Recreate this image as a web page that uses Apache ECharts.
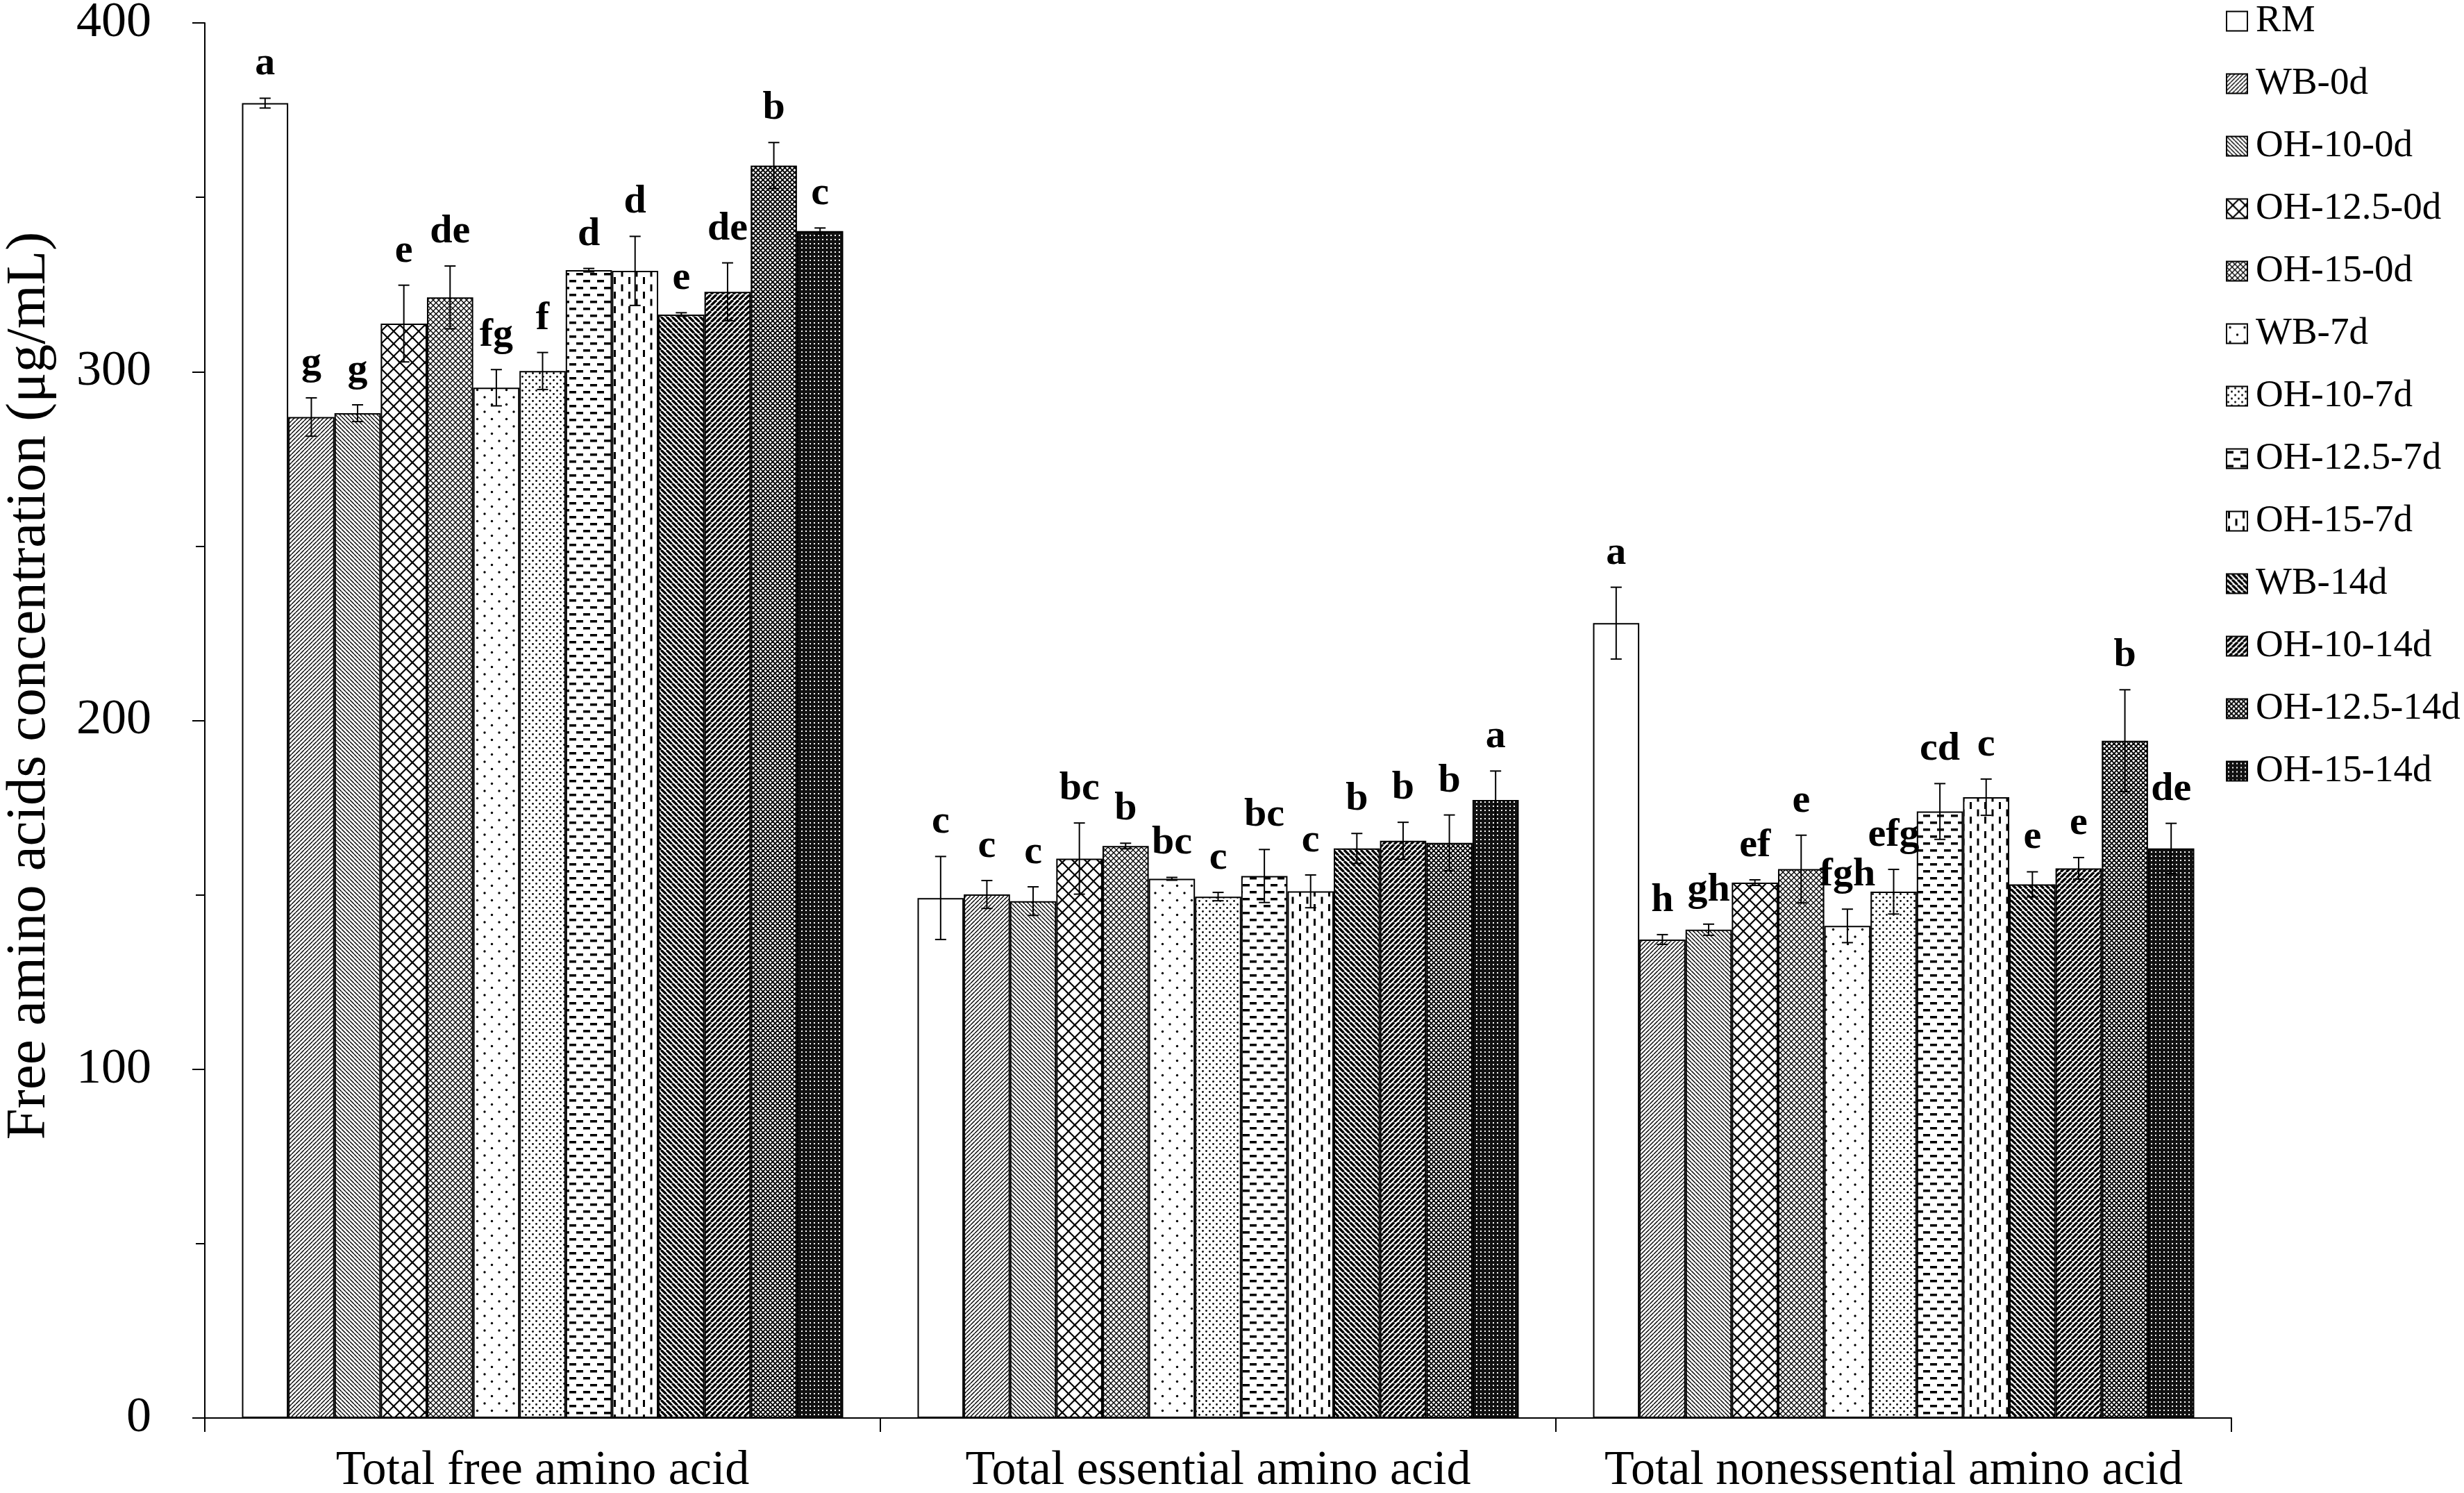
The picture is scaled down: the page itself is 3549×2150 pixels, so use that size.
<!DOCTYPE html>
<html>
<head>
<meta charset="utf-8">
<script src="https://cdn.jsdelivr.net/npm/echarts@6/dist/echarts.min.js"></script>
<style>
html,body{margin:0;padding:0;background:#fff;}
#chart{width:3549px;height:2150px;}
</style>
</head>
<body>
<div id="chart"></div>
<script>
const categories = ['Total free amino acid', 'Total essential amino acid', 'Total nonessential amino acid'];
const seriesNames = ['RM', 'WB-0d', 'OH-10-0d', 'OH-12.5-0d', 'OH-15-0d', 'WB-7d', 'OH-10-7d', 'OH-12.5-7d', 'OH-15-7d', 'WB-14d', 'OH-10-14d', 'OH-12.5-14d', 'OH-15-14d'];
const yTicks = [0, 100, 200, 300, 400];

// values per category, in the order of seriesNames
const totalFree = [377.0, 287.0, 288.1, 313.8, 321.3, 295.4, 300.2, 329.1, 328.9, 316.4, 322.9, 359.1, 340.3];
const totalFreeErr = [1.4, 5.5, 2.4, 11.0, 9.0, 5.2, 5.3, 0.5, 9.9, 0.5, 8.3, 6.6, 0.9];
const totalFreeSig = ['a', 'g', 'g', 'e', 'de', 'fg', 'f', 'd', 'd', 'e', 'de', 'b', 'c'];

const totalEssential = [149.1, 150.1, 148.2, 160.4, 164.0, 154.6, 149.5, 155.4, 151.0, 163.3, 165.5, 164.9, 177.2];
const totalEssentialErr = [11.9, 4.0, 4.1, 10.2, 0.8, 0.4, 1.2, 7.6, 4.7, 4.3, 5.3, 8.0, 8.3];
const totalEssentialSig = ['c', 'c', 'c', 'bc', 'b', 'bc', 'c', 'bc', 'c', 'b', 'b', 'b', 'a'];

const totalNonessential = [227.9, 137.2, 140.0, 153.5, 157.4, 141.1, 150.9, 173.9, 178.0, 153.0, 157.6, 194.2, 163.3];
const totalNonessentialErr = [10.3, 1.4, 1.6, 0.8, 9.7, 4.8, 6.4, 8.0, 5.2, 3.6, 3.1, 14.6, 7.2];
const totalNonessentialSig = ['a', 'h', 'gh', 'ef', 'e', 'fgh', 'efg', 'cd', 'c', 'e', 'e', 'b', 'de'];

const groupValues = [totalFree, totalEssential, totalNonessential];
const groupErrors = [totalFreeErr, totalEssentialErr, totalNonessentialErr];
const groupSig = [totalFreeSig, totalEssentialSig, totalNonessentialSig];

const patternKinds = ['white', 'fwd', 'back', 'diamond', 'finex', 'sparseDots', 'dots', 'hdash', 'vdash', 'thickBack', 'thickFwd', 'darkX', 'darkGrid'];

function makePattern(kind) {
  if (kind === 'white') return '#ffffff';
  const c = document.createElement('canvas');
  const sizes = {fwd: 6, back: 6, diamond: 18, finex: 8, sparseDots: 21, dots: 10, hdash: 20, vdash: 21, thickBack: 8, thickFwd: 8, darkX: 7, darkGrid: 6};
  const p = sizes[kind];
  c.width = p; c.height = p;
  const g = c.getContext('2d');
  g.fillStyle = '#fff';
  g.fillRect(0, 0, p, p);
  g.strokeStyle = '#000';
  g.fillStyle = '#000';
  function fwd(lw) {
    g.lineWidth = lw;
    for (const x0 of [-p, 0, p]) { g.beginPath(); g.moveTo(x0, p); g.lineTo(x0 + p, 0); g.stroke(); }
  }
  function back(lw) {
    g.lineWidth = lw;
    for (const x0 of [-p, 0, p]) { g.beginPath(); g.moveTo(x0, 0); g.lineTo(x0 + p, p); g.stroke(); }
  }
  function dot(x, y, r) { g.beginPath(); g.arc(x, y, r, 0, Math.PI * 2); g.fill(); }
  switch (kind) {
    case 'fwd': fwd(1.4); break;
    case 'back': back(1.4); break;
    case 'diamond': fwd(2.2); back(2.2); break;
    case 'finex': fwd(1.3); back(1.3); break;
    case 'sparseDots': dot(5, 5, 1.7); dot(15.5, 15.5, 1.7); break;
    case 'dots': dot(2.5, 2.5, 1.4); dot(7.5, 7.5, 1.4); break;
    case 'hdash': g.fillRect(0, 3, 10, 3.5); g.fillRect(10, 13, 10, 3.5); break;
    case 'vdash': g.fillRect(2, 0, 3, 10); g.fillRect(12.5, 10.5, 3, 10); break;
    case 'thickBack': back(3.4); break;
    case 'thickFwd': fwd(3.4); break;
    case 'darkX': fwd(1.9); back(1.9); break;
    case 'darkGrid': g.fillStyle = '#111'; g.fillRect(0, 0, p, p); g.fillStyle = '#fff'; g.fillRect(2, 2, 2, 2); break;
  }
  return {image: c, repeat: 'repeat'};
}

const CAT_GAP = 0.11;
const N = seriesNames.length;
const FONT = '"Liberation Serif", "Times New Roman", serif';

const barSeries = seriesNames.map((name, s) => ({
  name: name,
  type: 'bar',
  barGap: '0%',
  barCategoryGap: (CAT_GAP * 100) + '%',
  data: groupValues.map(arr => arr[s]),
  itemStyle: {color: makePattern(patternKinds[s]), borderColor: '#000', borderWidth: 2},
  emphasis: {disabled: true},
  silent: true,
  z: 2
}));

const errData = [];
const errLetters = [];
for (let c = 0; c < categories.length; c++) {
  for (let s = 0; s < N; s++) {
    errData.push([c, s, groupValues[c][s], groupErrors[c][s]]);
    errLetters.push(groupSig[c][s]);
  }
}

const errSeries = {
  name: 'err',
  type: 'custom',
  data: errData,
  encode: {x: 0, y: 2},
  z: 10,
  silent: true,
  renderItem: function (params, api) {
    const cat = api.value(0), s = api.value(1), v = api.value(2), e = api.value(3);
    const band = api.size([1, 0])[0];
    const groupW = band * (1 - CAT_GAP);
    const bw = groupW / N;
    const base = api.coord([cat, v]);
    const x = base[0] - groupW / 2 + (s + 0.5) * bw;
    const yT = api.coord([cat, v + e])[1];
    const yB = api.coord([cat, v - e])[1];
    const cap = 8;
    const ls = {stroke: '#000', lineWidth: 2};
    return {
      type: 'group',
      children: [
        {type: 'line', shape: {x1: x, y1: yT, x2: x, y2: yB}, style: ls},
        {type: 'line', shape: {x1: x - cap, y1: yT, x2: x + cap, y2: yT}, style: ls},
        {type: 'line', shape: {x1: x - cap, y1: yB, x2: x + cap, y2: yB}, style: ls},
        {type: 'text', style: {text: errLetters[params.dataIndex], x: x, y: yT - 20, align: 'center', verticalAlign: 'bottom',
          fontSize: 58, fontWeight: 'bold', fontFamily: FONT, fill: '#000'}}
      ]
    };
  }
};

const chart = echarts.init(document.getElementById('chart'), null, {renderer: 'canvas'});
chart.setOption({
  animation: false,
  backgroundColor: '#fff',
  textStyle: {fontFamily: FONT, color: '#000'},
  grid: {left: 295, right: 335, top: 33, bottom: 108, containLabel: false, outerBoundsMode: 'none'},
  legend: {
    data: seriesNames,
    orient: 'vertical',
    left: 3206,
    top: 3,
    padding: 0,
    itemWidth: 30,
    itemHeight: 28,
    itemGap: 35,
    icon: 'rect',
    textStyle: {fontSize: 55, lineHeight: 55, fontFamily: FONT, color: '#000', padding: [0, 0, 0, 7]},
    selectedMode: false
  },
  xAxis: {
    type: 'category',
    data: categories,
    axisLine: {lineStyle: {color: '#000', width: 2}},
    axisTick: {show: true, length: 20, lineStyle: {color: '#000', width: 2}},
    axisLabel: {fontSize: 70, color: '#000', fontFamily: FONT, margin: 42, interval: 0},
    splitLine: {show: false}
  },
  yAxis: {
    type: 'value',
    min: yTicks[0],
    max: yTicks[yTicks.length - 1],
    interval: yTicks[1] - yTicks[0],
    name: 'Free amino acids concentration (μg/mL)',
    nameLocation: 'middle',
    nameGap: 212,
    nameTextStyle: {fontSize: 81, color: '#000', fontFamily: FONT, padding: [0, 0, 0, 100]},
    axisLine: {show: true, lineStyle: {color: '#000', width: 2}},
    axisTick: {show: true, length: 18, lineStyle: {color: '#000', width: 2}},
    minorTick: {show: true, splitNumber: 2, length: 13, lineStyle: {color: '#000', width: 2}},
    axisLabel: {fontSize: 72, color: '#000', fontFamily: FONT, margin: 77},
    splitLine: {show: false}
  },
  series: barSeries.concat([errSeries])
});
</script>
</body>
</html>
